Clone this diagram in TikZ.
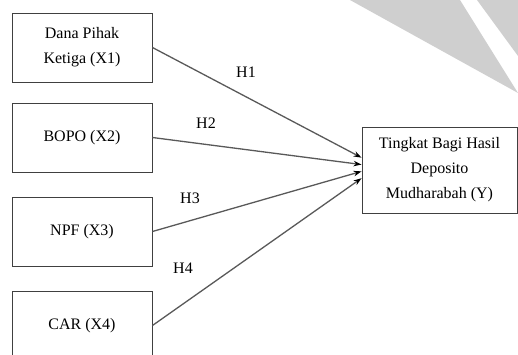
\documentclass[tikz,border=0pt]{standalone}
\usepackage{fontspec}
\setmainfont{Liberation Serif}
\usetikzlibrary{arrows.meta}

\begin{document}
\begin{tikzpicture}[x=1pt,y=-1pt,
  var/.style={draw=black!75,line width=0.9pt,minimum width=140pt,minimum height=69pt,
    align=center,inner sep=0pt,font=\fontsize{16}{25}\selectfont},
  hyp/.style={draw=black!65,line width=1.3pt,-{Stealth[length=8pt,width=5.5pt,black]}},
  lbl/.style={font=\fontsize{16}{25}\selectfont}]
  \useasboundingbox (0,0) rectangle (518,354);
  \clip (0,0) rectangle (518,354);
  % watermark in the corner
  \fill[black!19] (350,0) -- (460,0) -- (518,93) -- cycle;
  \fill[black!19] (477,0) -- (518,0) -- (518,56) -- cycle;
  % variables
  \node[var] (x1) at (82,47.5) {Dana Pihak\\Ketiga (X1)};
  \node[var] (x2) at (82,137.5) {BOPO (X2)};
  \node[var] (x3) at (82,231.5) {NPF (X3)};
  \node[var] (x4) at (82,325.5) {CAR (X4)};
  \node[var,minimum width=155pt,minimum height=86pt] (y) at (439.5,170)
    {Tingkat Bagi Hasil\\Deposito\\Mudharabah (Y)};
  % hypotheses
  \draw[hyp] (x1.east) -- (y.171);
  \draw[hyp] (x2.east) -- (y.176);
  \draw[hyp] (x3.east) -- (y.181);
  \draw[hyp] (x4.east) -- (y.186);
  \node[lbl] (h1) at (246,72) {H1};
  \node[lbl] (h2) at (206,123) {H2};
  \node[lbl] (h3) at (190,198) {H3};
  \node[lbl] (h4) at (183,268) {H4};
\end{tikzpicture}
\end{document}
